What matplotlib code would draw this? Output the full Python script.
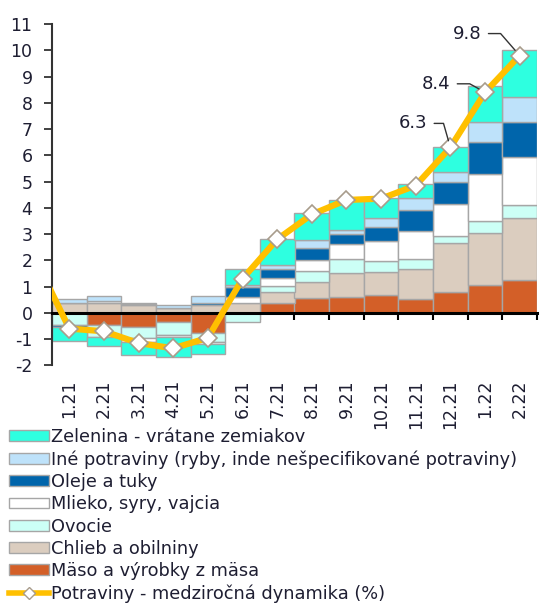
import numpy as np
import matplotlib
matplotlib.use("Agg")
import matplotlib.pyplot as plt
from matplotlib.patches import Patch
from matplotlib.lines import Line2D

plt.rcParams['font.family'] = ['DejaVu Sans']
plt.rcParams['axes.unicode_minus'] = False

months = ['1.21', '2.21', '3.21', '4.21', '5.21', '6.21', '7.21',
          '8.21', '9.21', '10.21', '11.21', '12.21', '1.22', '2.22']

# contributions (p.b.), stacked bottom -> top
maso    = [0.00, -0.45, -0.52, -0.33, -0.75, 0.00, 0.39, 0.58, 0.60, 0.69, 0.52, 0.81, 1.07, 1.26]
chlieb  = [0.38, 0.37, 0.30, 0.20, 0.30, 0.39, 0.42, 0.61, 0.92, 0.85, 1.16, 1.85, 1.97, 2.35]
ovocie  = [-0.45, -0.45, -0.45, -0.50, -0.35, -0.33, 0.20, 0.41, 0.54, 0.42, 0.38, 0.25, 0.45, 0.49]
mlieko  = [0.00, 0.10, -0.15, -0.10, -0.07, 0.21, 0.31, 0.42, 0.57, 0.77, 1.04, 1.25, 1.78, 1.83]
oleje   = [-0.08, 0.00, 0.05, 0.00, 0.08, 0.38, 0.35, 0.45, 0.39, 0.53, 0.80, 0.81, 1.23, 1.35]
ine     = [0.15, 0.17, 0.04, 0.10, 0.25, 0.10, 0.16, 0.32, 0.15, 0.35, 0.48, 0.40, 0.78, 0.95]
zelen   = [-0.55, -0.38, -0.48, -0.75, -0.38, 0.60, 0.98, 1.02, 1.14, 0.77, 0.51, 0.95, 1.36, 1.77]

# y/y food inflation, first value is 12.20 (outside the plot, line comes in from the left)
potraviny = [2.1, -0.6, -0.7, -1.15, -1.35, -0.95, 1.3, 2.8, 3.75, 4.3, 4.35, 4.85, 6.3, 8.4, 9.8]

series = [
    ('Mäso a výrobky z mäsa', maso, '#D35F28'),
    ('Chlieb a obilniny', chlieb, '#DBCDBF'),
    ('Ovocie', ovocie, '#CCFFF6'),
    ('Mlieko, syry, vajcia', mlieko, '#FFFFFF'),
    ('Oleje a tuky', oleje, '#0065AB'),
    ('Iné potraviny (ryby, inde nešpecifikované potraviny)', ine, '#BEE2FA'),
    ('Zelenina - vrátane zemiakov', zelen, '#2EFFE0'),
]

fig = plt.figure(figsize=(5.49, 6.07), dpi=100)
ax = fig.add_axes([52/549, 1-365.4/607, 485/549, 341.4/607])

x = np.arange(len(months))
pos = np.zeros(len(months))
neg = np.zeros(len(months))
for name, vals, col in series:
    v = np.array(vals)
    bottom = np.where(v >= 0, pos, neg)
    ax.bar(x, v, width=1.0, bottom=bottom, color=col, edgecolor='#A6A6A6',
           linewidth=1.0, zorder=2)
    pos = pos + np.where(v > 0, v, 0)
    neg = neg + np.where(v < 0, v, 0)

xl = np.arange(-1, len(months))
ax.plot(xl, potraviny, color='#FFC000', linewidth=4.5, zorder=4, solid_capstyle='round')
ax.plot(xl[1:], potraviny[1:], linestyle='none', marker='D', markersize=9.5,
        markerfacecolor='white', markeredgecolor='#A89C8C', markeredgewidth=1.2, zorder=5)

# labels for the last three months
for i, dx, dy, angB in [(11, -27, 17.3, 106), (12, -35.3, 6.1, 151), (13, -37.8, 15.8, 131)]:
    ax.annotate('%.1f' % potraviny[i + 1], xy=(x[i], potraviny[i + 1]), xytext=(dx, dy),
                textcoords='offset points', ha='center', va='center', fontsize=13,
                color='#1E1E32', zorder=6,
                arrowprops=dict(arrowstyle='-', color='#333333', lw=1.0, relpos=(1, 0.5),
                                shrinkA=3, shrinkB=5,
                                connectionstyle='angle,angleA=0,angleB=%d,rad=0' % angB))

ax.set_xlim(-0.5, len(months) - 0.5)
ax.set_ylim(-2, 11)
ax.set_yticks(range(-2, 12))
ax.tick_params(axis='y', length=6, width=1.3, labelsize=12.5, pad=8,
               color='#333333', labelcolor='#1E1E32')

ax.spines['top'].set_visible(False)
ax.spines['right'].set_visible(False)
ax.spines['left'].set_color('#333333')
ax.spines['left'].set_linewidth(1.5)
ax.spines['bottom'].set_position(('data', 0))
ax.spines['bottom'].set_linewidth(2.2)
ax.spines['bottom'].set_zorder(3)

ax.set_xticks(x)
ax.set_xticklabels(months, rotation=90, va='top', ha='center', color='#1E1E32')
ax.set_xticks(np.arange(-0.5, len(months)), minor=True)
ax.tick_params(axis='x', which='major', length=0, labelsize=12.5, pad=48)
ax.tick_params(axis='x', which='minor', length=5, width=1.5, direction='out')

handles = [Patch(facecolor=col, edgecolor='#A6A6A6', label=name) for name, vals, col in series[::-1]]
handles.append(Line2D([], [], color='#FFC000', linewidth=4, marker='D', markersize=6,
                      markerfacecolor='white', markeredgecolor='#A89C8C',
                      label='Potraviny - medziročná dynamika (%)'))
fig.legend(handles=handles, loc='upper left', bbox_to_anchor=(9/549, 1-428/607),
           frameon=False, fontsize=12.8, handlelength=2.25, handleheight=0.55,
           handletextpad=0.12, labelspacing=0.24, borderaxespad=0, borderpad=0,
           labelcolor='#1E1E32')

fig.savefig('out.png', dpi=100)
